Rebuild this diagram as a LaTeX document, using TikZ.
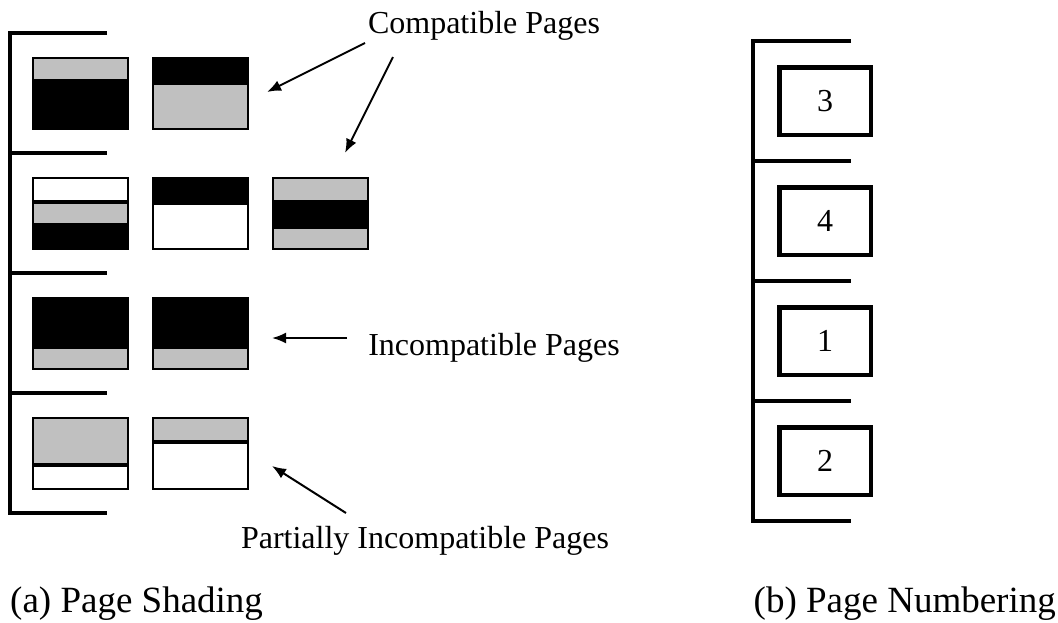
\documentclass[tikz,border=0pt]{standalone}
\usepackage{fontspec}
\setmainfont{Liberation Serif}
\usetikzlibrary{arrows.meta}

\definecolor{pagegray}{RGB}{192,192,192}

\tikzset{
  bracket/.style={line width=3.5pt},
  band/.style={draw=black, line width=2pt},
  pageframe/.style={draw=black, line width=2.5pt},
  numbox/.style={draw, line width=4.5pt, minimum width=91.5pt, minimum height=67.5pt,
    inner sep=0pt, font=\fontsize{32}{38}\selectfont},
  tag/.style={font=\fontsize{32}{38}\selectfont, inner sep=0pt, anchor=base},
  subcaption/.style={font=\fontsize{37}{44}\selectfont, inner sep=0pt},
  pointer/.style={-{Latex[length=14pt,width=11pt]}, line width=2pt},
}

% one page of the left column: x, y of its top left corner, bands top/bottom/colour
\newcommand{\shadedpage}[3]{%
  \foreach \ya/\yb/\tone in {#3}
    \filldraw[band, fill=\tone] (#1+1,#2+1+\ya) rectangle (#1+96,#2+\yb-1);
  \draw[pageframe] (#1+1,#2+1) rectangle (#1+96,#2+72);
}

\begin{document}
\begin{tikzpicture}[x=1pt, y=-1pt]
  \useasboundingbox (0,0) rectangle (1058,622);

  \def\ca{32};
  \def\cb{152};
  \def\cc{272};

  % (a) page shading
  \begin{scope}
    \draw[bracket] (107,33) -- (10,33) -- (10,513) -- (107,513);
    \foreach \y in {153,273,393}
      \draw[bracket] (10,\y) -- (107,\y);
  \end{scope}

  \begin{scope}
    \shadedpage{\ca}{57}{0/24/pagegray, 24/73/black}
    \shadedpage{\cb}{57}{0/26/black, 26/73/pagegray}

    \shadedpage{\ca}{177}{0/25/white, 25/48/pagegray, 48/73/black}
    \shadedpage{\cb}{177}{0/26/black, 26/73/white}
    \shadedpage{\cc}{177}{0/25/pagegray, 25/50/black, 50/73/pagegray}

    \shadedpage{\ca}{297}{0/50/black, 50/73/pagegray}
    \shadedpage{\cb}{297}{0/50/black, 50/73/pagegray}

    \shadedpage{\ca}{417}{0/48/pagegray, 48/73/white}
    \shadedpage{\cb}{417}{0/25/pagegray, 25/73/white}
  \end{scope}

  \node[tag] (compatible) at (484,33) {Compatible Pages};
  \node[tag] (incompatible) at (494,355) {Incompatible Pages};
  \node[tag] (partial) at (425,548) {Partially Incompatible Pages};

  \coordinate (compatible left) at (365,43);
  \coordinate (compatible right) at (393,57);
  \coordinate (first row tip) at (267,92);
  \coordinate (second row tip) at (345,153);
  \coordinate (incompatible start) at (347,338);
  \coordinate (third row tip) at (272,338);
  \coordinate (partial start) at (346,513);
  \coordinate (fourth row tip) at (272,466);

  \draw[pointer] (compatible left) -- (first row tip);
  \draw[pointer] (compatible right) -- (second row tip);
  \draw[pointer] (incompatible start) -- (third row tip);
  \draw[pointer] (partial start) -- (fourth row tip);

  % (b) page numbering
  \begin{scope}
    \draw[bracket] (851,41) -- (753,41) -- (753,521) -- (851,521);
    \foreach \y in {161,281,401}
      \draw[bracket] (753,\y) -- (851,\y);
  \end{scope}

  \node[numbox] (page three) at (825,101) {3};
  \node[numbox] (page four) at (825,221) {4};
  \node[numbox] (page one) at (825,341) {1};
  \node[numbox] (page two) at (825,461) {2};

  \node[subcaption, anchor=base west] (caption a) at (10,612) {(a) Page Shading};
  \node[subcaption, anchor=base east] (caption b) at (1056,612) {(b) Page Numbering};
\end{tikzpicture}
\end{document}
